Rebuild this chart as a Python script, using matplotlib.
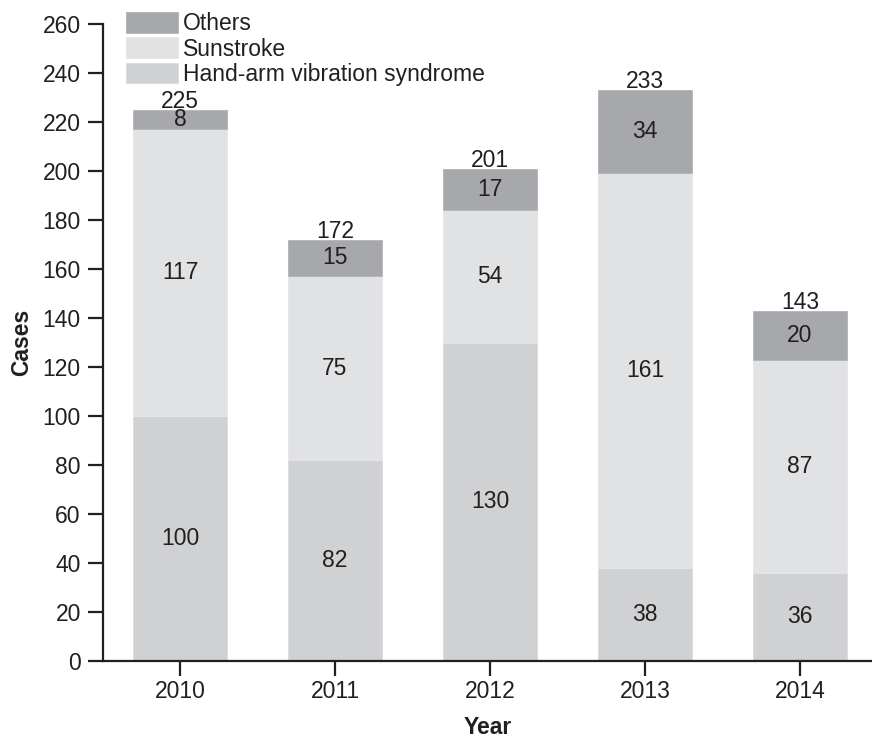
import numpy as np
import matplotlib
matplotlib.use("Agg")
import matplotlib.pyplot as plt

plt.rcParams['font.family'] = ['Liberation Sans', 'DejaVu Sans']

years = ['2010', '2011', '2012', '2013', '2014']
hand_arm = [100, 82, 130, 38, 36]
sunstroke = [117, 75, 54, 161, 87]
others = [8, 15, 17, 34, 20]

c_hand = '#d0d1d3'
c_sun = '#e1e2e4'
c_oth = '#a7a8ab'
ink = '#231f20'

fig = plt.figure(figsize=(8.72, 7.38), dpi=100)
ax = fig.add_axes([103 / 872, 77 / 738, 769 / 872, 637 / 738])

x = np.arange(len(years))
w = 0.61
hand_arm = np.array(hand_arm)
sunstroke = np.array(sunstroke)
others = np.array(others)

b1 = ax.bar(x, hand_arm, w, color=c_hand, edgecolor='#dcdcde', linewidth=0.6,
            label='Hand-arm vibration syndrome')
b2 = ax.bar(x, sunstroke, w, bottom=hand_arm, color=c_sun, edgecolor='#e6e6e8',
            linewidth=0.6, label='Sunstroke')
b3 = ax.bar(x, others, w, bottom=hand_arm + sunstroke, color=c_oth,
            edgecolor='#b4b5b7', linewidth=0.6, label='Others')

fs = 16.5
for i in range(len(years)):
    ax.text(x[i], hand_arm[i] / 2, str(hand_arm[i]), ha='center', va='center',
            fontsize=fs, color=ink)
    ax.text(x[i], hand_arm[i] + sunstroke[i] / 2, str(sunstroke[i]), ha='center',
            va='center', fontsize=fs, color=ink)
    ax.text(x[i], hand_arm[i] + sunstroke[i] + others[i] / 2, str(others[i]),
            ha='center', va='center', fontsize=fs, color=ink)
    total = hand_arm[i] + sunstroke[i] + others[i]
    ax.text(x[i], total + 0.8, str(total), ha='center', va='baseline',
            fontsize=fs, color=ink)

ax.set_xlim(-0.497, 4.465)
ax.set_ylim(0, 260)
ax.set_yticks(np.arange(0, 261, 20))
ax.set_xticks(x)
ax.set_xticklabels(years)

for side in ['top', 'right']:
    ax.spines[side].set_visible(False)
for side in ['left', 'bottom']:
    ax.spines[side].set_linewidth(1.6)
    ax.spines[side].set_color(ink)
ax.tick_params(axis='both', length=11, width=1.6, color=ink, labelsize=fs,
               labelcolor=ink)
ax.tick_params(axis='x', pad=3)
ax.tick_params(axis='y', pad=5)

ax.set_xlabel('Year', fontsize=fs, fontweight='bold', color=ink, labelpad=9)
ax.set_ylabel('Cases', fontsize=fs, fontweight='bold', color=ink, labelpad=7)

ax.legend(handles=[b3, b2, b1], loc='upper left',
          bbox_to_anchor=(126 / 872, 1 - 12 / 738), bbox_transform=fig.transFigure,
          frameon=False, fontsize=fs, borderpad=0, borderaxespad=0,
          handlelength=2.25, handleheight=1.0, handletextpad=0.25,
          labelspacing=0.1, labelcolor=ink)

fig.savefig('out.png', dpi=100)
